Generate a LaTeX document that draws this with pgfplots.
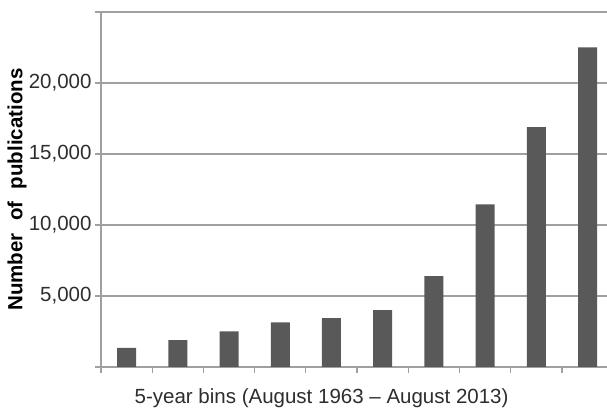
\documentclass[border=0pt]{standalone}
\usepackage{pgfplots}
\pgfplotsset{compat=1.18}
\usepackage{fontspec}
\setmainfont{Liberation Sans}
\definecolor{bargray}{RGB}{89,89,89}
\definecolor{gridgray}{RGB}{160,160,160}
\definecolor{labgray}{RGB}{45,45,45}
\begin{document}
\begin{tikzpicture}
\begin{axis}[
    scale only axis,
    width=506bp, height=355bp,
    xmin=0.5, xmax=10.38,
    ymin=0, ymax=25000,
    scaled y ticks=false,
    axis x line*=bottom, axis y line*=left,
    axis line style={gridgray, line width=1.2bp},
    ybar, bar width=19bp,
    xtick={0.5,1.5,...,9.5}, xticklabels={},
    ytick={0,5000,...,25000},
    yticklabels={,{5,000},{10,000},{15,000},{20,000},},
    tick align=outside, major tick length=6bp,
    tick style={gridgray, line width=1.2bp},
    ymajorgrids=true,
    grid style={gridgray, line width=1.2bp},
    ticklabel style={font=\fontsize{20.5bp}{24bp}\selectfont, text=labgray},
    /pgf/number format/assume math mode=true,
    xlabel={5-year bins (August 1963 -- August 2013)},
    xlabel style={at={(axis description cs:0.436,0)}, anchor=base, yshift=-36bp,
        font=\fontsize{20.5bp}{24bp}\selectfont, text=labgray},
    ylabel={Number\hspace{0.6em}of\hspace{0.6em}publications},
    ylabel style={at={(axis description cs:-0.166,0.5)}, anchor=center,
        font=\fontsize{20.5bp}{24bp}\selectfont\bfseries},
]
\addplot[fill=bargray, draw=none]
    coordinates {
    (1,1350)(2,1900)(3,2500)(4,3150)(5,3450)
    (6,4000)(7,6400)(8,11450)(9,16900)(10,22500)};
\coordinate (bl) at (rel axis cs:0,0);
\end{axis}
\pgfresetboundingbox
\useasboundingbox ([shift={(-101bp,-43bp)}]bl) rectangle ([shift={(506bp,367bp)}]bl);
\end{tikzpicture}
\end{document}
